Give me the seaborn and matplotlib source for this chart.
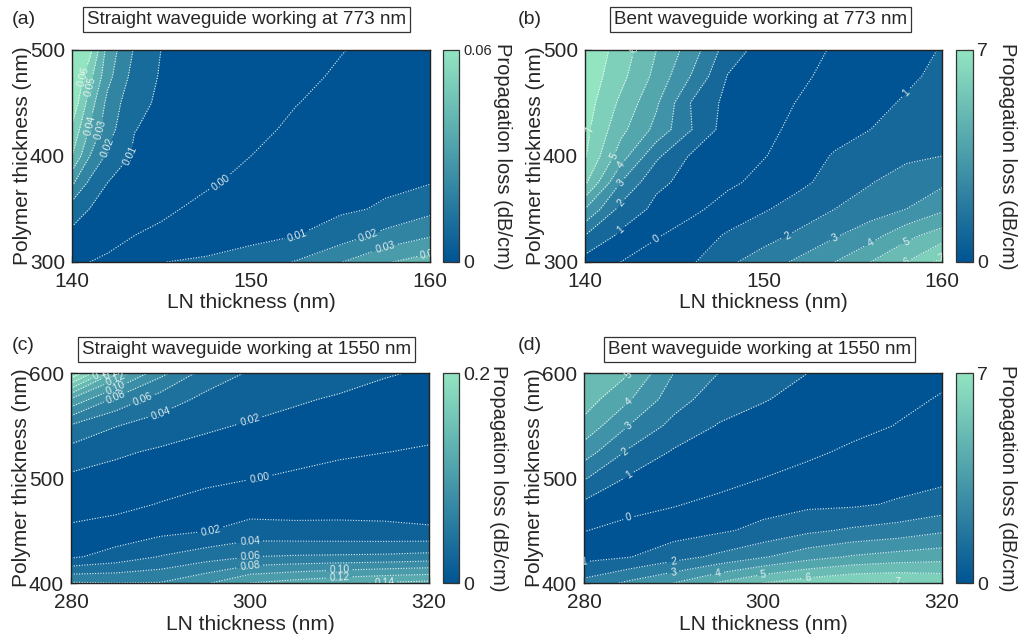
import numpy as np
import matplotlib
matplotlib.use("Agg")
import matplotlib.pyplot as plt
import seaborn as sns
from matplotlib.colors import Normalize
from matplotlib.cm import ScalarMappable

# Loss maps. Rows follow the polymer thickness, columns the LN thickness.
# Points on the far side of the zero-loss valley are stored negative; the map shows |value|.
a_ln = [140, 141, 142, 143.5, 145, 147.5, 150, 152.5, 155, 157.5, 160]
a_poly = [300, 325, 350, 375, 400, 425, 450, 475, 500]
a_loss = [
    [0.002, 0.0, -0.0015, -0.004, -0.0098, -0.0115, -0.015, -0.0205, -0.0295, -0.039, -0.045],
    [0.0075, 0.005, 0.003, 0.0, -0.002, -0.0045, -0.007, -0.0098, -0.015, -0.023, -0.029],
    [0.015, 0.0098, 0.0075, 0.005, 0.0018, -0.0025, -0.005, -0.007, -0.0085, -0.011, -0.017],
    [0.032, 0.018, 0.010, 0.0075, 0.0055, 0.0012, -0.0025, -0.0045, -0.0065, -0.0085, -0.0095],
    [0.050, 0.030, 0.018, 0.0085, 0.0070, 0.0035, 0.0, -0.0025, -0.0045, -0.0065, -0.0085],
    [0.058, 0.039, 0.024, 0.0102, 0.0080, 0.0055, 0.0017, -0.0012, -0.003, -0.005, -0.007],
    [0.068, 0.045, 0.027, 0.0125, 0.0085, 0.0062, 0.0034, 0.0002, -0.002, -0.004, -0.006],
    [0.072, 0.053, 0.033, 0.016, 0.0090, 0.0068, 0.0043, 0.0017, -0.0009, -0.003, -0.005],
    [0.075, 0.063, 0.036, 0.019, 0.0098, 0.0075, 0.0052, 0.0027, 0.0003, -0.002, -0.004],
]

b_ln = [140, 142, 144, 146, 148, 150, 152, 154, 156, 158, 160]
b_poly = [300, 325, 350, 375, 400, 425, 450, 475, 500]
b_loss = [
    [0.6, 0.0, -0.6, -0.9, -1.8, -2.5, -3.2, -4.0, -5.0, -6.0, -7.3],
    [2.0, 0.8, 0.1, -0.55, -1.1, -1.6, -2.2, -2.9, -3.6, -4.7, -5.5],
    [4.0, 1.7, 0.75, 0.25, -0.45, -0.9, -1.4, -2.0, -2.5, -3.0, -3.8],
    [6.2, 3.0, 1.2, 0.7, 0.2, -0.3, -0.8, -1.35, -1.95, -2.5, -2.8],
    [7.1, 4.5, 2.2, 0.85, 0.45, 0.05, -0.45, -1.1, -1.5, -1.8, -2.0],
    [7.3, 5.3, 3.7, 2.0, 0.5, 0.2, -0.2, -0.6, -1.0, -1.4, -1.8],
    [7.5, 5.8, 4.15, 1.9, 0.7, 0.35, -0.05, -0.4, -0.75, -1.1, -1.45],
    [7.7, 6.3, 4.7, 2.9, 0.95, 0.5, 0.15, -0.25, -0.55, -0.85, -1.2],
    [7.8, 6.6, 5.0, 3.5, 1.5, 0.6, 0.35, -0.1, -0.4, -0.7, -1.05],
]

c_ln = [280, 285, 290, 295, 300, 305, 310, 315, 320]
c_poly = [400, 425, 450, 475, 500, 525, 550, 575, 600]
c_loss = [
    [-0.082, -0.08, -0.081, -0.097, -0.12, -0.128, -0.136, -0.142, -0.146],
    [-0.017, -0.028, -0.041, -0.051, -0.06, -0.062, -0.063, -0.064, -0.067],
    [-0.003, -0.007, -0.014, -0.019, -0.027, -0.025, -0.024, -0.023, -0.0215],
    [0.0073, 0.0047, -0.0008, -0.0067, -0.011, -0.012, -0.014, -0.0146, -0.0145],
    [0.0164, 0.013, 0.0081, 0.0043, 0.0007, -0.0025, -0.0056, -0.0072, -0.0083],
    [0.0325, 0.023, 0.0174, 0.0133, 0.0093, 0.0057, 0.0025, 0.0003, -0.0016],
    [0.058, 0.041, 0.031, 0.0231, 0.0182, 0.0139, 0.0102, 0.0073, 0.0045],
    [0.117, 0.075, 0.0505, 0.0352, 0.028, 0.0224, 0.0178, 0.0143, 0.011],
    [0.22, 0.135, 0.086, 0.052, 0.038, 0.033, 0.028, 0.0215, 0.018],
]

d_ln = [280, 285, 290, 295, 300, 305, 310, 315, 320]
d_poly = [400, 425, 450, 475, 500, 525, 550, 575, 600]
d_loss = [
    [-2.3, -3.2, -4.0, -5.1, -6.0, -6.6, -7.0, -7.05, -6.8],
    [-0.7, -0.95, -1.6, -2.2, -2.9, -3.6, -4.1, -4.4, -4.6],
    [0.03, -0.3, -0.56, -0.85, -1.25, -1.8, -2.15, -2.4, -2.85],
    [0.8, 0.32, 0.07, -0.25, -0.65, -0.8, -0.85, -1.1, -1.4],
    [2.1, 0.89, 0.45, 0.35, 0.0, -0.35, -0.6, -0.65, -0.8],
    [3.5, 1.85, 0.9, 0.62, 0.4, 0.2, -0.18, -0.35, -0.55],
    [4.7, 3.0, 1.7, 0.95, 0.7, 0.5, 0.3, -0.03, -0.3],
    [5.5, 4.1, 2.45, 1.45, 1.05, 0.75, 0.55, 0.22, -0.07],
    [5.9, 5.05, 3.0, 2.0, 1.45, 1.0, 0.75, 0.45, 0.2],
]

titles = ["Straight waveguide working at 773 nm", "Bent waveguide working at 773 nm",
          "Straight waveguide working at 1550 nm", "Bent waveguide working at 1550 nm"]
letters = ["(a)", "(b)", "(c)", "(d)"]

sns.set_style("ticks")
plt.rcParams['font.family'] = ['Liberation Sans', 'DejaVu Sans']
cmap = sns.blend_palette(["#005493", "#93e4c1"], as_cmap=True)

fig = plt.figure(figsize=(10.25, 6.44), dpi=100)


def panel(rect, crect, x, y, z, n, top, top_label, top_size, fmt, xt, yt, xminor,
          title, tx, ty, letter, lpos, label_x):
    ax = fig.add_axes(rect)
    z = np.array(z)
    lv = list(np.linspace(0, top, n + 1))
    fill_lv = [-1e3] + [-v for v in lv[:0:-1]] + lv + [1e3]
    cols = [cmap(min(abs(lo), abs(hi)) / top) for lo, hi in zip(fill_lv[:-1], fill_lv[1:])]
    ax.contourf(x, y, z, levels=fill_lv, colors=cols)
    line_lv = [-v for v in lv[:0:-1]] + lv
    cs = ax.contour(x, y, z, levels=line_lv, colors="white", linewidths=0.8,
                    linestyles=[(0, (1, 1.4))], alpha=0.9)
    ax.clabel(cs, inline=True, inline_spacing=3, fontsize=7.5, colors="#f2f6f6",
              fmt=lambda v: fmt.format(abs(v)))
    ax.set_xlim(x[0], x[-1])
    ax.set_ylim(y[0], y[-1])
    ax.set_xticks(xt)
    ax.set_yticks(yt)
    if xminor:
        ax.set_xticks(xminor, minor=True)
    ax.tick_params(which="both", direction="in", length=4, width=0.9, color="#222222")
    ax.tick_params(axis="x", labelsize=15, pad=7.5)
    ax.tick_params(axis="y", labelsize=15, pad=5)
    for s in ax.spines.values():
        s.set_color("#222222")
        s.set_linewidth(1.0)
    ax.set_xlabel("LN thickness (nm)", fontsize=15, labelpad=1.5)
    ax.set_ylabel("Polymer thickness (nm)", fontsize=15, labelpad=-1.5)
    ax.text(tx, ty, title, transform=ax.transAxes, fontsize=13.6, ha="left", va="center",
            bbox=dict(boxstyle="square,pad=0.2", fc="white", ec="#333333", lw=0.9))
    fig.text(lpos[0], lpos[1], letter, fontsize=14, ha="left", va="center")

    cax = fig.add_axes(crect)
    sm = ScalarMappable(norm=Normalize(0, top), cmap=cmap)
    cb = fig.colorbar(sm, cax=cax)
    cb.set_ticks(lv)
    cb.set_ticklabels(["0"] + [""] * (n - 1) + [top_label])
    cax.tick_params(direction="in", length=5, width=0.8, labelsize=14, pad=3, color="#333333")
    cax.get_yticklabels()[-1].set_fontsize(top_size)
    cb.outline.set_edgecolor("#333333")
    cb.outline.set_linewidth(0.9)
    cax.text(label_x, 0.5, "Propagation loss (dB/cm)", transform=cax.transAxes,
             rotation=270, ha="center", va="center", fontsize=14.5)


panel([0.0702, 0.5932, 0.3493, 0.3292], [0.4322, 0.5932, 0.0156, 0.3292],
      a_ln, a_poly, a_loss, 6, 0.06, "0.06", 10.5, "{:.2f}",
      [140, 150, 160], [300, 400, 500], None,
      titles[0], 0.042, 1.144, letters[0], (0.0117, 0.969), 3.75)
panel([0.5707, 0.5932, 0.3483, 0.3292], [0.9327, 0.5932, 0.0166, 0.3292],
      b_ln, b_poly, b_loss, 7, 7, "7", 14, "{:.0f}",
      [140, 150, 160], [300, 400, 500], None,
      titles[1], 0.081, 1.144, letters[1], (0.505, 0.969), 3.0)
panel([0.0693, 0.0947, 0.3493, 0.3261], [0.4322, 0.0947, 0.0156, 0.3261],
      c_ln, c_poly, c_loss, 10, 0.2, "0.2", 14, "{:.2f}",
      [280, 300, 320], [400, 500, 600], [290, 310],
      titles[2], 0.031, 1.112, letters[2], (0.0117, 0.464), 3.45)
panel([0.5698, 0.0947, 0.3493, 0.3261], [0.9327, 0.0947, 0.0166, 0.3261],
      d_ln, d_poly, d_loss, 7, 7, "7", 14, "{:.0f}",
      [280, 300, 320], [400, 500, 600], [290, 310],
      titles[3], 0.067, 1.112, letters[3], (0.505, 0.464), 3.0)

fig.savefig("out.png", dpi=100)
